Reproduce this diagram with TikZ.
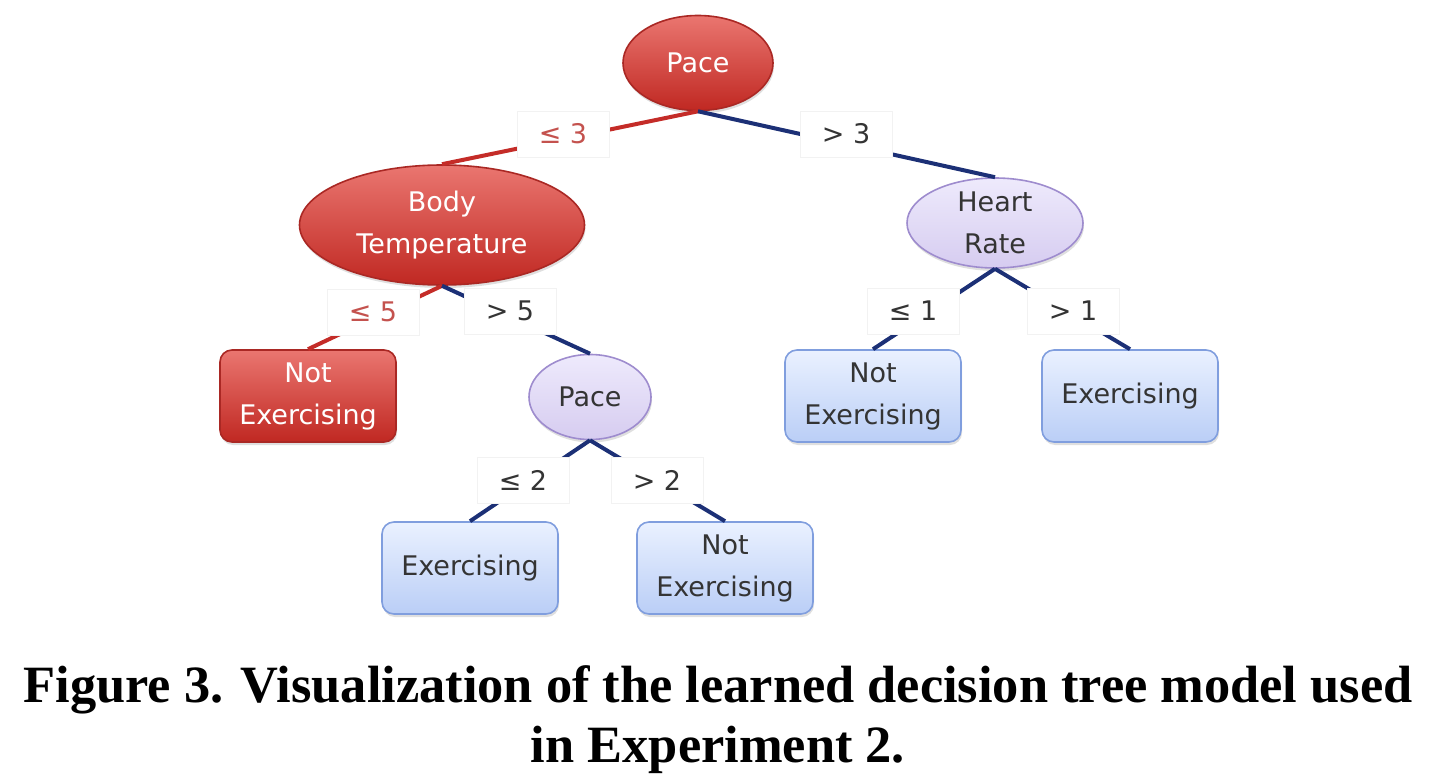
\documentclass[tikz,border=0pt]{standalone}
\usepackage{fontspec}
\setmainfont{Liberation Serif}
\newfontfamily\treefont{DejaVu Sans}
\usetikzlibrary{shapes.geometric, shadows, positioning}
\definecolor{redtop}{RGB}{234,118,112}
\definecolor{redbot}{RGB}{192,40,34}
\definecolor{redrim}{RGB}{170,40,36}
\definecolor{lavtop}{RGB}{238,234,252}
\definecolor{lavbot}{RGB}{214,204,240}
\definecolor{lavrim}{RGB}{158,140,206}
\definecolor{bluetop}{RGB}{234,241,255}
\definecolor{bluebot}{RGB}{186,206,246}
\definecolor{bluerim}{RGB}{128,158,222}
\definecolor{redlink}{RGB}{196,44,40}
\definecolor{navylink}{RGB}{28,48,118}
\definecolor{inktext}{RGB}{52,52,52}
\definecolor{redtext}{RGB}{196,82,78}
\tikzstyle{split} = [ellipse, thick, inner sep=0pt, align=center, font=\treefont\fontsize{13.5}{21}\selectfont, drop shadow={opacity=0.25, shadow xshift=0.5pt, shadow yshift=-1.5pt}]
\tikzstyle{hotsplit} = [split, top color=redtop, bottom color=redbot, draw=redrim, text=white]
\tikzstyle{coolsplit} = [split, top color=lavtop, bottom color=lavbot, draw=lavrim, text=inktext]
\tikzstyle{leaf} = [rectangle, thick, rounded corners=6pt, minimum width=88pt, minimum height=46pt, inner sep=0pt, align=center, font=\treefont\fontsize{13.5}{21}\selectfont, drop shadow={opacity=0.25, shadow xshift=0.5pt, shadow yshift=-1.5pt}]
\tikzstyle{hotleaf} = [leaf, top color=redtop, bottom color=redbot, draw=redrim, text=white]
\tikzstyle{coolleaf} = [leaf, top color=bluetop, bottom color=bluebot, draw=bluerim, text=inktext]
\tikzstyle{cond} = [rectangle, fill=white, draw=black!5, minimum width=46pt, minimum height=23pt, inner sep=0pt, font=\treefont\fontsize{13.5}{16}\selectfont]
\tikzstyle{hotlink} = [line width=2pt, draw=redlink]
\tikzstyle{coollink} = [line width=2pt, draw=navylink]

\begin{document}
\begin{tikzpicture}[x=0.5pt, y=-0.5pt]
	\useasboundingbox (0,0) rectangle (1436,776);
	% splits
	\node (Pace) [hotsplit, minimum width=75pt, minimum height=47.5pt] at (698,63) {Pace};
	\node (BodyTemp) [hotsplit, minimum width=142.5pt, minimum height=60pt] at (442,225) {Body\\Temperature};
	\node (HeartRate) [coolsplit, minimum width=88pt, minimum height=45pt] at (995,223) {Heart\\Rate};
	\node (PaceLow) [coolsplit, minimum width=61pt, minimum height=42.5pt] at (590,397) {Pace};
	% leaves
	\node (RestA) [hotleaf] at (308,396) {Not\\Exercising};
	\node (ExA) [coolleaf] at (470,568) {Exercising};
	\node (RestB) [coolleaf] at (725,568) {Not\\Exercising};
	\node (RestC) [coolleaf] at (873,396) {Not\\Exercising};
	\node (ExB) [coolleaf] at (1130,396) {Exercising};
	% links
	\draw [hotlink] (Pace.south) -- (BodyTemp.north);
	\draw [coollink] (Pace.south) -- (HeartRate.north);
	\draw [hotlink] (BodyTemp.south) -- (RestA.north);
	\draw [coollink] (BodyTemp.south) -- (PaceLow.north);
	\draw [coollink] (PaceLow.south) -- (ExA.north);
	\draw [coollink] (PaceLow.south) -- (RestB.north);
	\draw [coollink] (HeartRate.south) -- (RestC.north);
	\draw [coollink] (HeartRate.south) -- (ExB.north);
	% conditions
	\node (CondA) [cond, text=redtext] at (563,134) {≤ 3};
	\node (CondB) [cond, text=inktext] at (846,134) {> 3};
	\node (CondC) [cond, text=redtext] at (373,312) {≤ 5};
	\node (CondD) [cond, text=inktext] at (510,311) {> 5};
	\node (CondE) [cond, text=inktext] at (523,480) {≤ 2};
	\node (CondF) [cond, text=inktext] at (657,480) {> 2};
	\node (CondG) [cond, text=inktext] at (913,311) {≤ 1};
	\node (CondH) [cond, text=inktext] at (1073,311) {> 1};
	% caption
	\node (Caption) [anchor=base, font=\bfseries\fontsize{26.2}{30}\selectfont] at (718,702) {Figure 3. Visualization of the learned decision tree model used};
	\node (CaptionTail) [anchor=base, font=\bfseries\fontsize{26.2}{30}\selectfont] at (718,762) {in Experiment 2.};
\end{tikzpicture}
\end{document}
